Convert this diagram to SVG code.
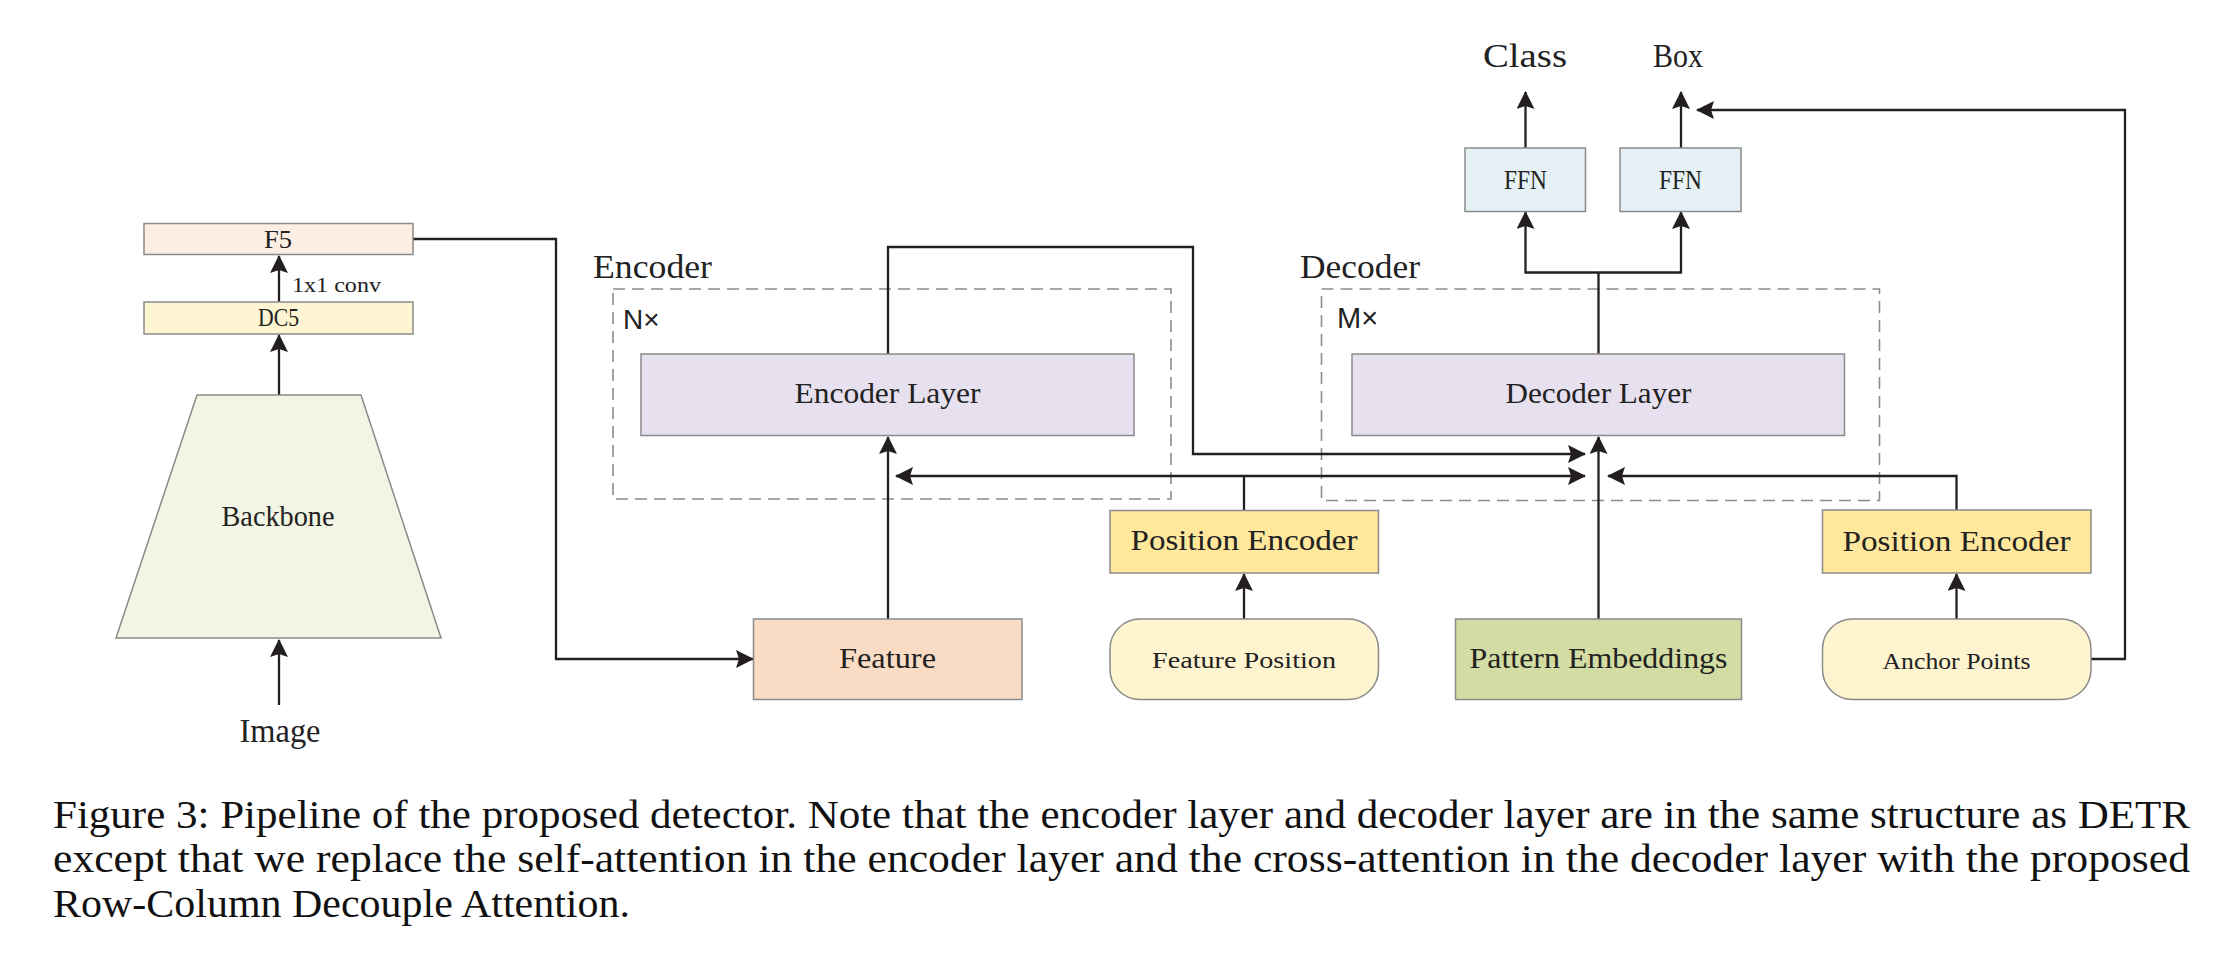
<svg xmlns="http://www.w3.org/2000/svg" width="2220" height="953" viewBox="0 0 2220 953">
<style>
.box{stroke:#8a8a8a;stroke-width:1.5}
.t{font-family:"Liberation Serif","DejaVu Serif",serif;fill:#222;text-anchor:middle}
.s{font-family:"Liberation Sans",Arial,sans-serif;fill:#222}
.dash{fill:none;stroke:#8c8c8c;stroke-width:1.6;stroke-dasharray:12 7}
.c{fill:none;stroke:#231f20;stroke-width:2.3}
.a{marker-end:url(#arr)}
.cap{font-family:"Liberation Serif","Times New Roman",serif;font-size:41px;fill:#111}
</style>
<defs>
<marker id="arr" markerUnits="userSpaceOnUse" markerWidth="20" markerHeight="20" refX="17" refY="9" orient="auto">
<path d="M0,0 L18,9 L0,18 L3,9 Z" fill="#231f20"/>
</marker>
</defs>
<rect width="2220" height="953" fill="#fff"/>

<g id="encoder-group">
<rect class="dash" x="613" y="289" width="558" height="210"/>
<text class="t" x="593" y="278" font-size="33" text-anchor="start" textLength="119" lengthAdjust="spacingAndGlyphs" style="text-anchor:start">Encoder</text>
<text class="s" x="623" y="329" font-size="28">N×</text>
</g>
<g id="decoder-group">
<rect class="dash" x="1321.5" y="289" width="558" height="211.5"/>
<text class="t" x="1300" y="278" font-size="33" textLength="120" lengthAdjust="spacingAndGlyphs" style="text-anchor:start">Decoder</text>
<text class="s" x="1337" y="328" font-size="29">M×</text>
</g>

<g id="connectors">
<path class="c a" d="M279,705 L279,640"/>
<path class="c a" d="M279,395 L279,335"/>
<path class="c a" d="M279,302 L279,256"/>
<path class="c a" d="M413,239 L556,239 L556,659 L753,659"/>
<path class="c a" d="M888,619 L888,437"/>
<path class="c" d="M1244,511 L1244,476"/>
<path class="c a" d="M1244,476 L896,476"/>
<path class="c a" d="M1244,476 L1585,476"/>
<path class="c a" d="M888,354 L888,247 L1193,247 L1193,454 L1585,454"/>
<path class="c a" d="M1598.5,619 L1598.5,437"/>
<path class="c a" d="M1956.5,510 L1956.5,476 L1608,476"/>
<path class="c a" d="M1956.5,619 L1956.5,574"/>
<path class="c a" d="M1244,619 L1244,574"/>
<path class="c a" d="M2091,659 L2125,659 L2125,110 L1697,110"/>
<path class="c" d="M1598.5,354 L1598.5,272.5"/>
<path class="c a" d="M1598.5,272.5 L1525.5,272.5 L1525.5,212"/>
<path class="c a" d="M1598.5,272.5 L1681,272.5 L1681,212"/>
<path class="c a" d="M1525.5,148 L1525.5,92"/>
<path class="c a" d="M1681,148 L1681,92"/>
</g>

<g id="image"><text class="t" x="280" y="742" font-size="34" textLength="81" lengthAdjust="spacingAndGlyphs">Image</text></g>
<g id="backbone">
<polygon class="box" points="197,395 361,395 441,638 116,638" fill="#f2f5e4" stroke="#999"/>
<text class="t" x="278" y="526" font-size="29" textLength="113" lengthAdjust="spacingAndGlyphs">Backbone</text>
</g>
<g id="dc5">
<rect class="box" x="144" y="302" width="269" height="32" fill="#fef5d2"/>
<text class="t" x="278.5" y="326" font-size="26" textLength="41" lengthAdjust="spacingAndGlyphs">DC5</text>
</g>
<g id="conv-label"><text class="t" x="292" y="292" font-size="20" textLength="89" lengthAdjust="spacingAndGlyphs" style="text-anchor:start">1x1 conv</text></g>
<g id="f5">
<rect class="box" x="144" y="223.5" width="269" height="31" fill="#fdeee4"/>
<text class="t" x="278" y="247.5" font-size="26" textLength="28" lengthAdjust="spacingAndGlyphs">F5</text>
</g>

<g id="encoder-layer">
<rect class="box" x="641" y="354" width="493" height="81.5" fill="#e7e0ee"/>
<text class="t" x="887.5" y="403" font-size="29" textLength="186" lengthAdjust="spacingAndGlyphs">Encoder Layer</text>
</g>
<g id="decoder-layer">
<rect class="box" x="1352" y="354" width="492.5" height="81.5" fill="#e7e0ee"/>
<text class="t" x="1598.5" y="403" font-size="29" textLength="186" lengthAdjust="spacingAndGlyphs">Decoder Layer</text>
</g>
<g id="ffn-class">
<rect class="box" x="1465" y="148" width="120.5" height="63.5" fill="#e5f1f5"/>
<text class="t" x="1525.5" y="189" font-size="28" textLength="43" lengthAdjust="spacingAndGlyphs">FFN</text>
</g>
<g id="ffn-box">
<rect class="box" x="1620" y="148" width="121" height="63.5" fill="#e5f1f5"/>
<text class="t" x="1680.5" y="189" font-size="28" textLength="43" lengthAdjust="spacingAndGlyphs">FFN</text>
</g>
<g id="class-out"><text class="t" x="1525" y="67" font-size="33" textLength="84" lengthAdjust="spacingAndGlyphs">Class</text></g>
<g id="box-out"><text class="t" x="1678" y="67" font-size="33" textLength="50" lengthAdjust="spacingAndGlyphs">Box</text></g>

<g id="feature">
<rect class="box" x="753.5" y="619" width="268.5" height="80.5" fill="#fadcc4"/>
<text class="t" x="887.5" y="668" font-size="29" textLength="97" lengthAdjust="spacingAndGlyphs">Feature</text>
</g>
<g id="position-encoder-1">
<rect class="box" x="1110" y="510.5" width="268.5" height="62.5" fill="#ffe89c"/>
<text class="t" x="1244" y="550" font-size="29" textLength="227" lengthAdjust="spacingAndGlyphs">Position Encoder</text>
</g>
<g id="feature-position">
<rect class="box" x="1110" y="619" width="268.5" height="80.5" rx="30" fill="#fef4d0"/>
<text class="t" x="1244" y="668" font-size="23" textLength="184" lengthAdjust="spacingAndGlyphs">Feature Position</text>
</g>
<g id="pattern-embeddings">
<rect class="box" x="1455.5" y="619" width="286" height="80.5" fill="#d3dda3"/>
<text class="t" x="1598.5" y="668" font-size="29" textLength="258" lengthAdjust="spacingAndGlyphs">Pattern Embeddings</text>
</g>
<g id="position-encoder-2">
<rect class="box" x="1822.5" y="510" width="268.5" height="63" fill="#ffe89c"/>
<text class="t" x="1956.5" y="551" font-size="29" textLength="228" lengthAdjust="spacingAndGlyphs">Position Encoder</text>
</g>
<g id="anchor-points">
<rect class="box" x="1822.5" y="619" width="268.5" height="80.5" rx="30" fill="#fef4d0"/>
<text class="t" x="1956.5" y="668.5" font-size="23" textLength="148" lengthAdjust="spacingAndGlyphs">Anchor Points</text>
</g>

<g id="caption">
<text class="cap" x="53" y="828" textLength="2137" lengthAdjust="spacingAndGlyphs">Figure 3: Pipeline of the proposed detector. Note that the encoder layer and decoder layer are in the same structure as DETR</text>
<text class="cap" x="53" y="872" textLength="2137" lengthAdjust="spacingAndGlyphs">except that we replace the self-attention in the encoder layer and the cross-attention in the decoder layer with the proposed</text>
<text class="cap" x="53" y="917" textLength="577" lengthAdjust="spacingAndGlyphs">Row-Column Decouple Attention.</text>
</g>
</svg>
